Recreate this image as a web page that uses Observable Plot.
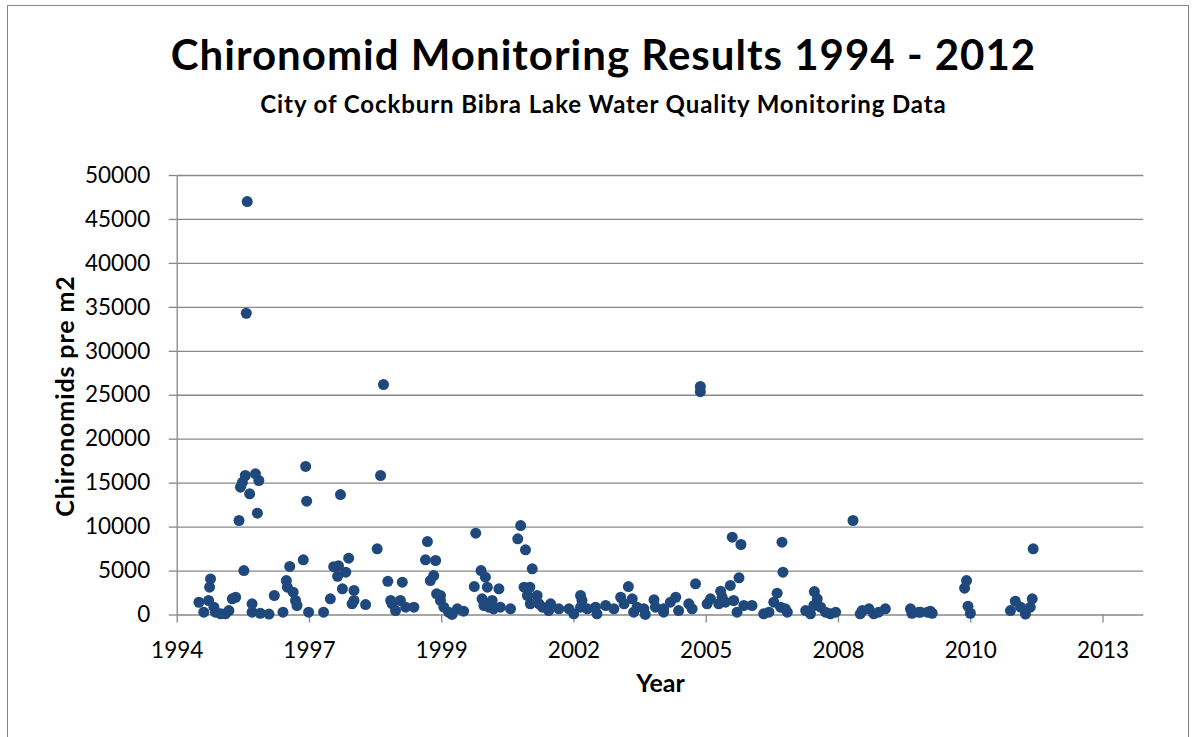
<!DOCTYPE html>
<html>
<head>
<meta charset="utf-8">
<script src="https://cdn.jsdelivr.net/npm/d3@7"></script>
<script src="https://cdn.jsdelivr.net/npm/@observablehq/plot@0.6"></script>
<style>
  html, body { margin: 0; padding: 0; background: #fff; overflow: hidden; width: 1197px; height: 737px; }
  #frame { position: absolute; left: 7px; top: 5px; width: 1182px; height: 900px; border: 1.5px solid #868686; box-sizing: border-box; }
  .t { position: absolute; left: 0; width: 1207px; text-align: center; font-family: Lato, sans-serif; font-weight: bold; color: #000; white-space: nowrap; line-height: 1; }
  #title { top: 33px; font-size: 42px; letter-spacing: 1px; }
  #subtitle { top: 92px; font-size: 24px; letter-spacing: 0.9px; }
  #ylabel { position: absolute; left: 63.5px; top: 396px; transform: translate(-50%, -50%) rotate(-90deg); font-family: Lato, sans-serif; font-weight: bold; font-size: 25px; letter-spacing: 0.9px; line-height: 1; white-space: nowrap; color: #000; }
  #chart { position: absolute; left: 0; top: 130px; }
</style>
</head>
<body>
<div id="frame"></div>
<div id="title" class="t">Chironomid Monitoring Results 1994 - 2012</div>
<div id="subtitle" class="t">City of Cockburn Bibra Lake Water Quality Monitoring Data</div>
<div id="chart"></div>
<div id="ylabel">Chironomids pre m2</div>
<script>
// Sample dates (decimal years)
const dates = [
  1994.78, 1994.88, 1994.98, 1995.02, 1995.00, 1995.09, 1995.12, 1995.23, 1995.33, 1995.40,
  1995.47, 1995.54, 1995.61, 1995.64, 1995.68, 1995.74, 1995.71, 1995.83, 1995.95, 1996.02,
  1995.99, 1995.78, 1995.76, 1995.88, 1995.88, 1996.05, 1996.23, 1996.34, 1996.52, 1996.59,
  1996.61, 1996.66, 1996.73, 1996.78, 1996.81, 1996.94, 1997.01, 1996.99, 1997.05, 1997.36,
  1997.50, 1997.57, 1997.67, 1997.65, 1997.82, 1997.88, 1997.71, 1997.75, 1997.99, 1997.99,
  1997.95, 1998.23, 1998.47, 1998.54, 1998.60, 1998.69, 1998.75, 1998.78, 1998.85, 1998.95,
  1998.99, 1999.06, 1999.23, 1999.51, 1999.47, 1999.68, 1999.64, 1999.57, 1999.70, 1999.78,
  1999.78, 1999.85, 1999.95, 2000.02, 2000.13, 2000.26, 2000.51, 2000.48, 2000.62, 2000.71,
  2000.75, 2000.64, 2000.68, 2000.78, 2000.85, 2000.88, 2000.99, 2001.02, 2001.23, 2001.44,
  2001.38, 2001.54, 2001.68, 2001.51, 2001.63, 2001.58, 2001.78, 2001.64, 2001.82, 2001.89,
  2002.06, 2002.02, 2002.23, 2002.44, 2002.54, 2002.68, 2002.71, 2002.68, 2002.82, 2002.99,
  2003.02, 2003.20, 2003.37, 2003.51, 2003.67, 2003.58, 2003.75, 2003.78, 2003.85, 2003.99,
  2004.02, 2004.20, 2004.23, 2004.40, 2004.40, 2004.54, 2004.65, 2004.71, 2004.92, 2004.99,
  2005.06, 2005.16, 2005.16, 2005.30, 2005.37, 2005.58, 2005.54, 2005.61, 2005.68, 2005.78,
  2005.82, 2006.00, 2005.96, 2005.85, 2005.92, 2006.06, 2006.23, 2006.47, 2006.58, 2006.75,
  2006.68, 2006.85, 2006.87, 2006.82, 2006.96, 2006.92, 2007.34, 2007.44, 2007.52, 2007.58,
  2007.51, 2007.65, 2007.75, 2007.85, 2007.96, 2008.32, 2008.47, 2008.51, 2008.65, 2008.75,
  2008.85, 2008.99, 2009.51, 2009.54, 2009.68, 2009.86, 2009.92, 2009.72, 2009.96, 2010.67,
  2010.63, 2010.70, 2010.75, 2011.58, 2011.68, 2011.79, 2011.89, 2011.99, 2012.03, 2012.05
];
// Chironomids per m2 for each sample
const counts = [
  1450, 320, 1650, 4100, 3160, 890, 320, 140, 140, 500,
  1840, 2020, 10750, 14540, 15100, 15870, 5060, 13790, 16060, 15300,
  11580, 47040, 34330, 1270, 320, 200, 100, 2220, 320, 3920,
  3160, 5520, 2600, 1650, 1080, 6280, 12950, 16900, 320, 320,
  1840, 5500, 5600, 4400, 4870, 6460, 13700, 2980, 2790, 1650,
  1270, 1190, 7530, 15870, 26220, 3830, 1650, 1270, 510, 1650,
  3730, 890, 890, 8360, 6280, 6200, 4490, 3920, 2410, 2220,
  1650, 890, 320, 60, 700, 430, 9310, 3240, 5060, 4300,
  3160, 1840, 1080, 890, 1650, 700, 2980, 890, 700, 10180,
  8670, 7420, 5260, 3160, 3160, 2220, 2220, 1270, 1270, 890,
  1270, 510, 700, 700, 140, 2220, 1650, 890, 700, 890,
  140, 1080, 700, 2020, 3240, 1270, 1840, 320, 890, 700,
  60, 1730, 890, 700, 320, 1460, 2020, 510, 1270, 700,
  3550, 26000, 25400, 1270, 1840, 2710, 1270, 2020, 1460, 3360,
  8850, 8020, 4230, 1650, 320, 1080, 1080, 140, 320, 2480,
  1460, 8280, 4870, 890, 320, 700, 510, 140, 2670, 1840,
  1080, 890, 320, 140, 320, 10750, 140, 510, 700, 140,
  320, 700, 700, 200, 320, 320, 430, 320, 200, 3920,
  3050, 1000, 200, 510, 1570, 890, 100, 890, 1840, 7530
];

// Axis definitions
const xStart = 1994.33;          // axis minimum (decimal year)
const xEnd = 2014.34;            // axis maximum (decimal year)
const xStepDays = 1000;          // Excel major unit, days
const xTickLabels = ["1994", "1997", "1999", "2002", "2005", "2008", "2010", "2013"];
const yTicks = [0, 5000, 10000, 15000, 20000, 25000, 30000, 35000, 40000, 45000, 50000];

const xLabel = "Year";

const data = dates.map((d, i) => ({date: d, value: counts[i]}));
const xTicks = xTickLabels.map((_, i) => xStart + i * xStepDays / 365.25);

const grid = "#878787";
const chart = Plot.plot({
  width: 1197,
  height: 607,
  marginTop: 45,
  marginBottom: 122.5,
  marginLeft: 176.7,
  marginRight: 53.7,
  style: {fontFamily: "Lato, sans-serif", fontSize: "22.5px", color: "#000", background: "transparent", overflow: "visible"},
  x: {domain: [xStart, xEnd]},
  y: {domain: [0, 50000]},
  marks: [
    Plot.gridY(yTicks, {stroke: grid, strokeOpacity: 1, strokeWidth: 1.3}),
    Plot.ruleX([xStart], {stroke: grid, strokeWidth: 1.3}),
    Plot.axisY(yTicks, {tickSize: 8, tickPadding: 19, stroke: grid, strokeWidth: 1.3, tickFormat: d => String(d), fontSize: 22.5, label: null}),
    Plot.axisX(xTicks, {tickSize: 8, tickPadding: 19.5, stroke: grid, strokeWidth: 1.3, tickFormat: (d, i) => xTickLabels[i], fontSize: 22.5, label: null}),
    Plot.dot(data, {x: "date", y: "value", r: 5.5, fill: "#1f497d", stroke: "none"}),
    Plot.text([xLabel], {frameAnchor: "bottom", dy: 76.5, fontWeight: "bold", fontSize: 25, fill: "#000"})
  ]
});
document.getElementById("chart").appendChild(chart);
</script>
</body>
</html>
